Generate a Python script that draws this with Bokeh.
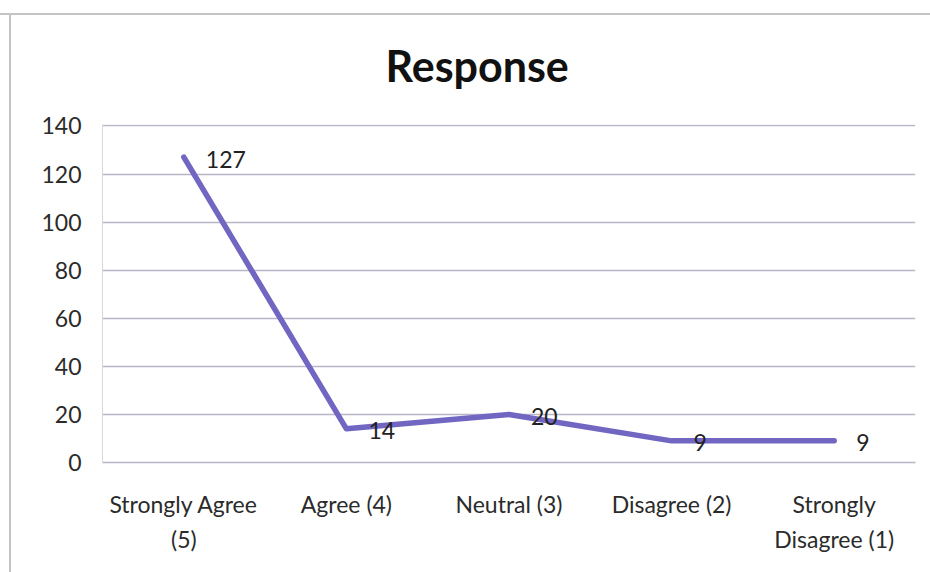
from bokeh.plotting import figure
from bokeh.models import ColumnDataSource, FactorRange, Range1d, FixedTicker, Title
from bokeh.embed import file_html
from bokeh.resources import INLINE
from bokeh.core.properties import value

# tick labels split into a first line (near the axis) and a second line
label_line1 = ["Strongly Agree", "Agree (4)", "Neutral (3)", "Disagree (2)", "Strongly"]
label_line2 = ["(5)", "", "", "", "Disagree (1)"]
responses = [127, 14, 20, 9, 9]
y_ticks = [0, 20, 40, 60, 80, 100, 120, 140]

FONT = "Lato"
factors = list(zip(label_line2, label_line1))
source = ColumnDataSource(dict(cat=factors, val=responses, lbl=[str(v) for v in responses]))

p = figure(width=930, height=572, output_backend="svg", toolbar_location=None,
           x_range=FactorRange(*factors, range_padding=0, group_padding=0, subgroup_padding=0),
           y_range=Range1d(0, 140.6),
           min_border_left=102, min_border_right=15, min_border_top=124, min_border_bottom=110)
# chart-area frame: grey rule along the top and the left edge
p.styles = {"background": "linear-gradient(#c4c4c4, #c4c4c4) no-repeat 0px 13px / 100% 2px, "
                          "linear-gradient(#c4c4c4, #c4c4c4) no-repeat 9px 13px / 2px 100%, white"}

t = Title(text="Response", text_font=FONT, text_font_size="43px", text_font_style="bold",
          text_color="#111111", align="left", offset=283, standoff=68)
p.add_layout(t, "above")

p.outline_line_color = None
p.background_fill_color = "white"
p.border_fill_color = "white"
p.border_fill_alpha = 0

p.xgrid.grid_line_color = None
p.ygrid.ticker = FixedTicker(ticks=y_ticks)
p.ygrid.grid_line_color = "#b9b5c6"
p.ygrid.grid_line_width = 1.5

p.yaxis.ticker = FixedTicker(ticks=y_ticks)
p.yaxis.axis_line_color = "#d8d6de"
p.yaxis.major_tick_line_color = None
p.yaxis.minor_tick_line_color = None
p.yaxis.major_tick_out = 0
p.yaxis.major_label_standoff = 21
p.yaxis.major_label_text_font = FONT
p.yaxis.major_label_text_font_size = "23px"
p.yaxis.major_label_text_color = "#2b2b2b"

p.xaxis.axis_line_color = "#b9b5c6"
p.xaxis.axis_line_width = 1.5
p.xaxis.major_tick_line_color = None
p.xaxis.minor_tick_line_color = None
p.xaxis.major_tick_out = 23
p.xaxis.major_label_standoff = 4
p.xaxis.major_label_text_font = FONT
p.xaxis.major_label_text_font_size = "23px"
p.xaxis.major_label_text_color = "#2b2b2b"
p.xaxis.group_text_font = FONT
p.xaxis.group_text_font_size = "23px"
p.xaxis.group_text_font_style = "normal"
p.xaxis.group_text_color = "#2b2b2b"
p.xaxis.separator_line_color = None

p.line("cat", "val", source=source, line_color="#7166c2", line_width=5.5, line_join="round", line_cap="round")
p.text("cat", "val", text="lbl", source=source, x_offset=22, y_offset=2,
       text_align="left", text_baseline="middle", text_font=value(FONT),
       text_font_size="23px", text_color="#222222")

open("out.html", "w").write(file_html(p, INLINE))
